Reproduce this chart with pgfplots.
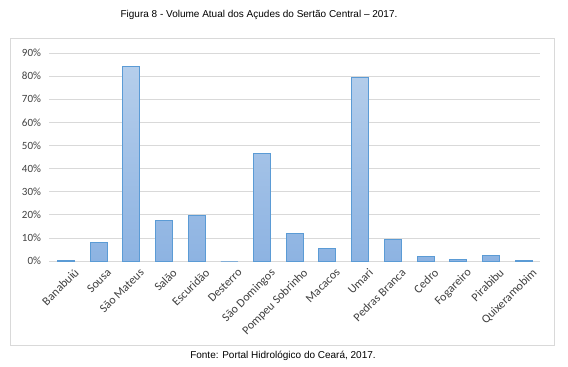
\documentclass[border=0pt]{standalone}
\usepackage{pgfplots}
\pgfplotsset{compat=1.18}
\usepackage{fontspec}
\setmainfont{Liberation Sans}
\newfontfamily\calfont{Carlito}
\definecolor{gridc}{HTML}{D9D9D9}
\definecolor{barline}{HTML}{5B9BD5}
\definecolor{bartop}{HTML}{B5CEEB}
\definecolor{barbot}{HTML}{8DB3E2}
\definecolor{tickc}{HTML}{404040}
\begin{document}
\begin{tikzpicture}[x=1pt,y=1pt]
\path[use as bounding box] (0,0) rectangle (568,367);
\draw[gridc, line width=0.75pt] (10,22) rectangle (554,329);
\node[font=\fontsize{10}{12}\selectfont] at (259,352) {Figura 8 - Volume Atual dos Açudes do Sertão Central – 2017.};
\node[font=\fontsize{10}{12}\selectfont] at (283,11) {Fonte: Portal Hidrológico do Ceará, 2017.};
\begin{axis}[
  at={(49.5pt,106pt)}, anchor=south west,
  scale only axis, width=490.5pt, height=208pt,
  xmin=-0.5, xmax=14.5, ymin=0, ymax=90,
  axis x line*=bottom, axis y line*=left,
  x axis line style={gridc, line width=0.75pt, -},
  y axis line style={draw=none},
  ytick={0,10,...,90},
  ymajorgrids, grid style={gridc, line width=0.75pt},
  major tick length=0pt,
  yticklabel={\pgfmathprintnumber{\tick}\%},
  /pgf/number format/assume math mode=true,
  yticklabel style={font=\calfont\fontsize{11}{13}\selectfont, text=tickc, anchor=east, xshift=-5pt},
  xtick={0,...,14},
  xticklabels={Banabuiú, Sousa, São Mateus, Salão, Escuridão, Desterro, São Domingos, Pompeu Sobrinho, Macacos, Umari, Pedras Branca, Cedro, Fogareiro, Pirabibu, Quixeramobim},
  xticklabel style={font=\calfont\fontsize{12}{14}\selectfont, text=tickc, rotate=45, anchor=north east, inner sep=0pt, xshift=1pt, yshift=-10pt},
  clip=false,
]
\addplot[ybar, bar width=17pt, draw=barline, line width=1pt, top color=bartop, bottom color=barbot] coordinates {
(0,0.4) (1,8.1) (2,84.1) (3,17.7) (4,19.5) (5,0) (6,46.5) (7,12.0) (8,5.5) (9,79.4) (10,9.1) (11,1.9) (12,0.7) (13,2.2) (14,0.4)
};
\end{axis}
\end{tikzpicture}
\end{document}
